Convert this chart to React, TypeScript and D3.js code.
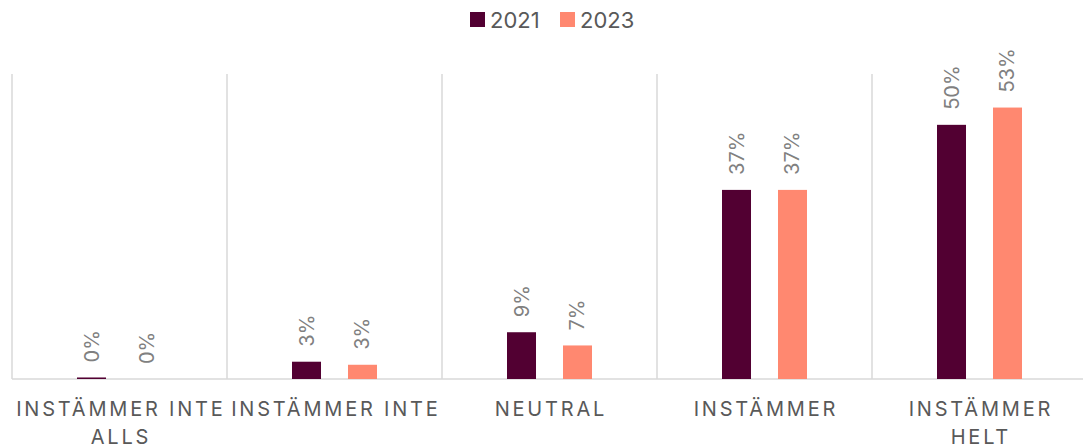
import React from "react";
import * as d3 from "d3";

const categories = ["INSTÄMMER INTE ALLS", "INSTÄMMER INTE", "NEUTRAL", "INSTÄMMER", "INSTÄMMER HELT"];
const categoryLines = [["INSTÄMMER INTE", "ALLS"], ["INSTÄMMER INTE"], ["NEUTRAL"], ["INSTÄMMER"], ["INSTÄMMER", "HELT"]];
const seriesNames = ["2021", "2023"];
const values2021 = [0.003, 0.034, 0.092, 0.372, 0.5];
const values2023 = [0.0, 0.028, 0.066, 0.372, 0.534];
const colors = ["#520032", "#FF8870"];

const W = 1083;
const H = 445;
const left = 12;
const right = 1087;
const top = 74;
const base = 379;
const font = "Inter, 'DejaVu Sans', sans-serif";

export default function App() {
  const x0 = d3.scaleBand<string>().domain(categories).range([left, right]).padding(0);
  const x1 = d3.scaleBand<string>().domain(seriesNames).range([-42.5, 42.5]).paddingInner(0.482).paddingOuter(0);
  const y = d3.scaleLinear().domain([0, 0.6]).range([base, top]);
  const fmt = d3.format(".0%");
  const data = [values2021, values2023];

  return (
    <svg width={W} height={H} style={{ position: "absolute", left: 0, top: 0 }} fontFamily={font}>
      {/* legend */}
      {seriesNames.map((s, i) => {
        const lx = i === 0 ? 470 : 560;
        return (
          <g key={s}>
            <rect x={lx} y={12} width={15} height={15} fill={colors[i]} />
            <text x={lx + 20} y={28} fontSize={22} fill="#595959">{s}</text>
          </g>
        );
      })}
      {/* separators */}
      {categories.map((c) => (
        <line key={c} x1={x0(c)!} x2={x0(c)!} y1={top} y2={base} stroke="#d9d9d9" strokeWidth={1.5} />
      ))}
      <line x1={left} x2={W} y1={base} y2={base} stroke="#d9d9d9" strokeWidth={1.5} />
      {/* bars */}
      {categories.map((c, ci) => {
        const cx = x0(c)! + x0.bandwidth() / 2;
        return (
          <g key={c}>
            {seriesNames.map((s, si) => {
              const v = data[si][ci];
              const bx = cx + x1(s)!;
              const by = y(v);
              const lx = bx + x1.bandwidth() / 2;
              return (
                <g key={s}>
                  {v > 0 && <rect x={bx} y={by} width={x1.bandwidth()} height={base - by} fill={colors[si]} />}
                  <text
                    transform={`translate(${lx},${by - 15}) rotate(-90)`}
                    fontSize={20}
                    fill="#808080"
                    textAnchor="start"
                    dominantBaseline="central"
                  >
                    {fmt(v)}
                  </text>
                </g>
              );
            })}
            {categoryLines[ci].map((line, li) => (
              <text
                key={li}
                x={cx + 1.4}
                y={416 + li * 28}
                fontSize={20}
                fill="#595959"
                textAnchor="middle"
                letterSpacing={2.8}
              >
                {line}
              </text>
            ))}
          </g>
        );
      })}
    </svg>
  );
}
